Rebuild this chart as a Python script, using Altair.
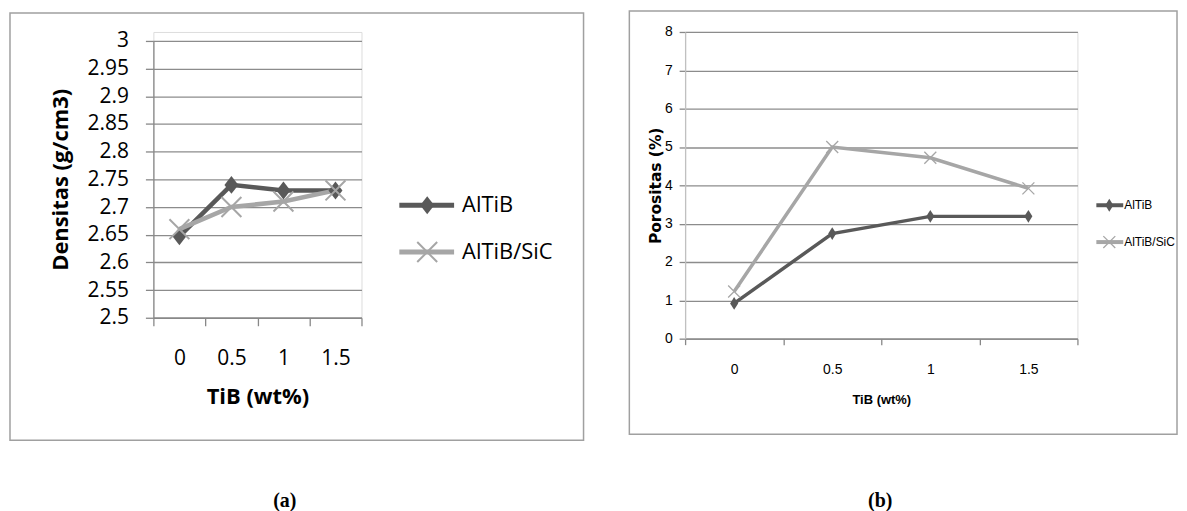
import altair as alt
import pandas as pd

# ---------------- data ----------------
categories = ["0", "0.5", "1", "1.5"]
series = ["AlTiB", "AlTiB/SiC"]
densitas_altib = [2.647, 2.74, 2.73, 2.73]
densitas_altib_sic = [2.66, 2.70, 2.71, 2.73]
porositas_altib = [0.92, 2.74, 3.19, 3.19]
porositas_altib_sic = [1.23, 5.0, 4.72, 3.92]
densitas_ticks = [2.5, 2.55, 2.6, 2.65, 2.7, 2.75, 2.8, 2.85, 2.9, 2.95, 3.0]
porositas_ticks = [0, 1, 2, 3, 4, 5, 6, 7, 8]
x_title = "TiB (wt%)"
y_title_a = "Densitas (g/cm3)"
y_title_b = "Porositas (%)"
caption_a = "(a)"
caption_b = "(b)"
series_colors = ["#595959", "#a6a6a6"]

X_PATH = "M-1,-1L1,1M-1,1L1,-1"


def long_df(v1, v2):
    rows = []
    for s, vals in zip(series, [v1, v2]):
        for c, v in zip(categories, vals):
            rows.append({"cat": c, "series": s, "value": v})
    return pd.DataFrame(rows)


def make_panel(df, ticks, domain, y_title, caption, st):
    off = st["off"]          # vertical offset of the plot area inside the panel
    H = st["h"] + off        # panel height (x axis sits at the bottom)
    color = alt.Color("series:N", scale=alt.Scale(domain=series, range=series_colors), legend=None)
    x = alt.X(
        "cat:N", sort=categories, title=x_title,
        scale=alt.Scale(paddingInner=0, paddingOuter=0),
        axis=alt.Axis(
            tickBand="extent", grid=False, labelAngle=0,
            labelFont=st["font"], labelFontSize=st["label_size"], labelColor="#000",
            labelPadding=st["xlab_pad"], tickSize=st["tick"], tickColor="#888", tickWidth=1.3,
            domainColor="#888", domainWidth=1.3,
            titleFont=st["xtitle_font"], titleFontSize=st["xtitle_size"], titleFontWeight="bold",
            titleColor="#000", titleX=st["w"] / 2, titleY=st["xtitle_y"], titleBaseline="middle",
        ),
    )
    y = alt.Y(
        "value:Q", title=y_title,
        scale=alt.Scale(domain=domain, nice=False, zero=False, range=[H, off]),
        axis=alt.Axis(
            values=ticks, labelExpr="format(datum.value, '~g')", labelOverlap=False,
            grid=True, gridColor="#8c8c8c", gridWidth=1.3,
            tickSize=st["tick"], tickColor="#888", tickWidth=1.3,
            domainColor=st["ydomain"], domainWidth=1.3,
            labelFont=st["font"], labelFontSize=st["label_size"], labelColor="#000",
            labelPadding=st["ylab_pad"],
            titleFont=st["ytitle_font"], titleFontSize=st["ytitle_size"], titleFontWeight="bold",
            titleColor="#000", titleX=st["ytitle_x"], titleY=off + st["h"] / 2, titleBaseline="middle",
        ),
    )
    base = alt.Chart(df)
    lines = base.mark_line(strokeWidth=st["lw"]).encode(x=x, y=y, color=color)
    diamonds = base.transform_filter(alt.datum.series == series[0]).mark_point(
        shape=st["diamond"], filled=True, size=st["dsize"], opacity=1
    ).encode(x=x, y=y, color=color)
    crosses = base.transform_filter(alt.datum.series == series[1]).mark_point(
        shape=X_PATH, filled=False, size=st["xsize"], strokeWidth=st["xsw"], opacity=1
    ).encode(x=x, y=y, color=color)
    main = alt.layer(lines, diamonds, crosses)

    leg_df = pd.DataFrame({"series": series})
    ly = alt.Y("series:N", scale=alt.Scale(type="point", domain=series,
                                           range=[v + off for v in st["leg_y"]], padding=0), axis=None)
    lbase = alt.Chart(leg_df)
    leg_line = lbase.mark_rule(strokeWidth=st["leg_lw"]).encode(
        x=alt.value(st["leg_x0"]), x2=alt.value(st["leg_x1"]), y=ly, color=color)
    leg_dia = lbase.transform_filter(alt.datum.series == series[0]).mark_point(
        shape=st["diamond"], filled=True, size=st["dsize"], opacity=1
    ).encode(x=alt.value(st["leg_xm"]), y=ly, color=color)
    leg_x = lbase.transform_filter(alt.datum.series == series[1]).mark_point(
        shape=X_PATH, filled=False, size=st["xsize"], strokeWidth=st["xsw"], opacity=1
    ).encode(x=alt.value(st["leg_xm"]), y=ly, color=color)
    leg_txt = lbase.mark_text(
        align="left", baseline="middle", font=st["font"], fontSize=st["leg_size"], color="#000"
    ).encode(x=alt.value(st["leg_tx"]), y=ly, text="series:N")
    legend = alt.layer(leg_line, leg_dia, leg_x, leg_txt)

    one = pd.DataFrame({"k": [0]})
    frame = alt.Chart(one).mark_rect(fill="transparent", stroke="#a0a0a0", strokeWidth=1.5).encode(
        x=alt.value(st["fx0"]), x2=alt.value(st["fx1"]),
        y=alt.value(st["fy0"] + off), y2=alt.value(st["fy1"] + off))
    cap = alt.Chart(one).mark_text(
        font="Liberation Serif", fontWeight="bold", fontSize=20, color="#000",
        align="center", baseline="middle"
    ).encode(x=alt.value(st["cx"]), y=alt.value(st["cy"]), text=alt.value(caption))

    return alt.layer(main, legend, frame, cap).resolve_scale(y="independent").properties(
        width=st["w"], height=H)


st_a = dict(
    off=9,
    w=209, h=278, font="Open Sans", label_size=21, xlab_pad=22, ylab_pad=17, tick=8,
    ydomain="#888", xtitle_font="Open Sans", xtitle_size=22, xtitle_y=79,
    ytitle_font="Open Sans", ytitle_size=22, ytitle_x=-93,
    lw=4.5, diamond="M0,-1L0.78,0L0,1L-0.78,0Z", dsize=324, xsize=400, xsw=2,
    leg_y=[165, 212], leg_x0=247, leg_x1=302, leg_xm=275, leg_tx=310, leg_size=22, leg_lw=5,
    fx0=-144, fx1=432, fy0=-28, fy1=401, cx=132, cy=471,
)
st_b = dict(
    off=0,
    w=394, h=308, font="Liberation Sans", label_size=14, xlab_pad=18, ylab_pad=7, tick=6,
    ydomain="#c0c0c0", xtitle_font="Liberation Sans", xtitle_size=13, xtitle_y=61,
    ytitle_font="DejaVu Sans", ytitle_size=15.5, ytitle_x=-30,
    lw=3.5, diamond="M0,-1L0.62,0L0,1L-0.62,0Z", dsize=169, xsize=144, xsw=1.3,
    leg_y=[174, 211], leg_x0=413, leg_x1=440, leg_xm=426, leg_tx=441, leg_size=12, leg_lw=4,
    fx0=-56, fx1=494, fy0=-21, fy1=404, cx=196, cy=471,
)

panel_a = make_panel(long_df(densitas_altib, densitas_altib_sic), densitas_ticks, [2.5, 3.0],
                     y_title_a, caption_a, st_a)
panel_b = make_panel(long_df(porositas_altib, porositas_altib_sic), porositas_ticks, [0, 8],
                     y_title_b, caption_b, st_b)

chart = alt.hconcat(panel_a, panel_b, spacing=42).properties(padding=0).configure_view(
    strokeWidth=0).configure(background="white")

chart.save("out.html", embed_options={"renderer": "svg", "actions": False})
